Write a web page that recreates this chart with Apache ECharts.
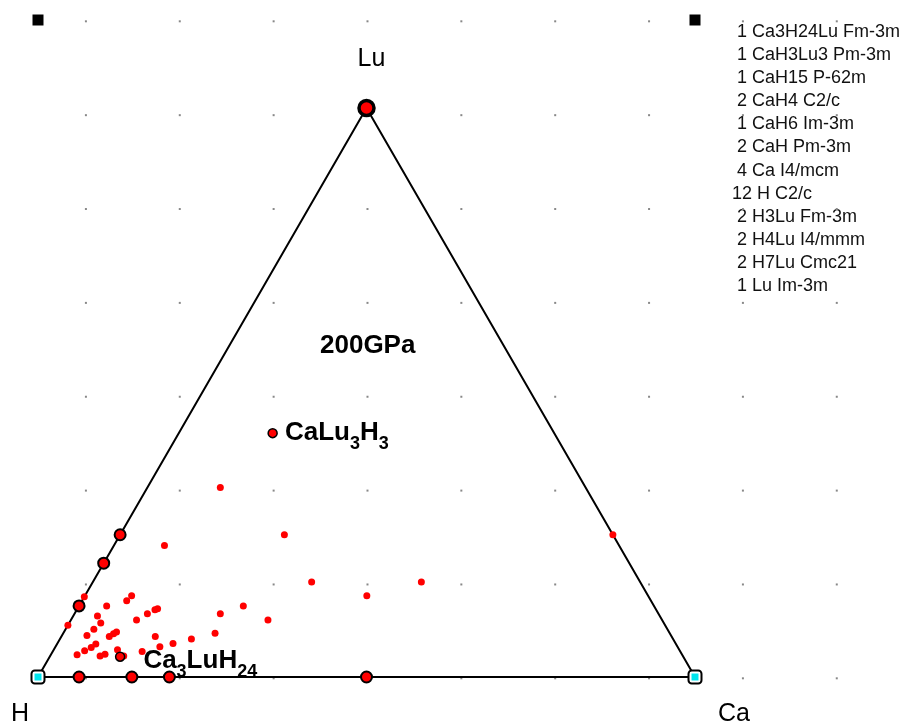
<!DOCTYPE html>
<html><head><meta charset="utf-8">
<script src="https://cdn.jsdelivr.net/npm/echarts@6/dist/echarts.min.js"></script>
<style>html,body{margin:0;padding:0;background:#fff}#c{width:916px;height:728px}</style>
</head><body><div id="c"></div>
<script>
// Compositions are [Ca fraction, Lu fraction]; H is the remainder.
const vertexLabels = ['H', 'Ca', 'Lu'];
const vertexComps = [[0, 0], [1, 0], [0, 1]];
const endMemberComps = [[0, 0], [1, 0]];            // pure H, pure Ca (cyan squares)
const luComp = [[0, 1]];                             // pure Lu
const edgeStableComps = [[0, 0.25], [0, 0.2], [0, 0.125], [0.0625, 0], [1 / 7, 0], [0.2, 0], [0.5, 0]];
const interiorStableNames = ['CaLu3H3', 'Ca3LuH24'];
const interiorStableComps = [[1 / 7, 3 / 7], [3 / 28, 1 / 28]];
const unstableComps = [
  [0.077, 0.231], [0.25, 0.25], [0.111, 0.333], [0.333, 0.167], [0.5, 0.167], [0.429, 0.143],
  [0.25, 0.125], [0.222, 0.111], [0.3, 0.1], [0.231, 0.077], [0.2, 0.067], [0.176, 0.059],
  [0.159, 0.053], [0.143, 0.071], [0.136, 0.045], [0.1, 0.1], [0.111, 0.111], [0.119, 0.118],
  [0.122, 0.12], [0.071, 0.143], [0.068, 0.134], [0.042, 0.125], [0.037, 0.107], [0.048, 0.095],
  [0.043, 0.084], [0.038, 0.073], [0.073, 0.071], [0.077, 0.076], [0.08, 0.079], [0.059, 0.058],
  [0.055, 0.052], [0.048, 0.046], [0.04, 0.039], [0.076, 0.037], [0.082, 0.04], [0.097, 0.048],
  [0.112, 0.037], [0, 0.141], [0, 0.091], [0.75, 0.25]
];
const cornerMarks = [[0, 1], [1, 1]];               // plain x,y positions of the black squares
const gridX = [1, 3, 5, 7, 9, 11, 13, 15, 17].map(v => v / 14);
const gridY = [0, 1, 2, 3, 4, 5, 6, 7].map(v => v / 7);
const legendCounts = [1, 1, 1, 2, 1, 2, 4, 12, 2, 2, 2, 1];
const legendNames = ['Ca3H24Lu Fm-3m', 'CaH3Lu3 Pm-3m', 'CaH15 P-62m', 'CaH4 C2/c', 'CaH6 Im-3m',
  'CaH Pm-3m', 'Ca I4/mcm', 'H C2/c', 'H3Lu Fm-3m', 'H4Lu I4/mmm', 'H7Lu Cmc21', 'Lu Im-3m'];
const pressureLabel = '200GPa';

const S3 = Math.sqrt(3) / 2;
const toXY = c => [c[0] + c[1] / 2, c[1] * S3];

const gridDots = [];
gridX.forEach(x => gridY.forEach(y => gridDots.push([x + 0.0015, y - 0.002])));

const rich = {
  m: { fontFamily: 'Liberation Sans', fontWeight: 'bold', fontSize: 26, color: '#000', lineHeight: 26 },
  s: { fontFamily: 'Liberation Sans', fontWeight: 'bold', fontSize: 18, color: '#000', lineHeight: 40, verticalAlign: 'bottom' }
};
const subFmt = name => name.replace(/([A-Za-z]+)(\d*)/g, (a, el, n) => '{m|' + el + '}' + (n ? '{s|' + n + '}' : ''));

const labelOffsets = [[-18, 37], [39, 37], [5, -49]];
const interiorLabelCfg = [{ distance: 7, offset: [0, 0] }, { distance: 18, offset: [0, 4] }];

const chart = echarts.init(document.getElementById('c'), null, { renderer: 'canvas' });
const legendGraphics = legendNames.map((n, i) => ({
  type: 'text', left: 732, top: 34 + 23.1 * i - 11,
  style: { text: String(legendCounts[i]).padStart(2, ' ') + ' ' + n, font: '18px "Liberation Sans"', fill: '#111' }
}));

const solid = extra => Object.assign({ opacity: 1 }, extra);

chart.setOption({
  animation: false,
  backgroundColor: '#fff',
  grid: { left: 0, right: 0, top: 0, bottom: 0 },
  xAxis: { type: 'value', min: -38 / 657, max: 878 / 657, show: false },
  yAxis: { type: 'value', min: -51 / 657, max: 677 / 657, show: false },
  graphic: [
    { type: 'text', left: 320, top: 333, style: { text: pressureLabel, font: 'bold 26px "Liberation Sans"', fill: '#000' } }
  ].concat(legendGraphics),
  series: [
    { type: 'scatter', z: 1, symbol: 'rect', symbolSize: 2, itemStyle: solid({ color: '#888' }), data: gridDots, silent: true },
    { type: 'scatter', z: 1, symbol: 'rect', symbolSize: 11, itemStyle: solid({ color: '#000' }), data: cornerMarks },
    { type: 'line', z: 2, symbol: 'none', lineStyle: { color: '#000', width: 2 },
      data: [vertexComps[0], vertexComps[1], vertexComps[2], vertexComps[0]].map(toXY) },
    { type: 'scatter', z: 3, symbol: 'circle', symbolSize: 7, itemStyle: solid({ color: '#ff0000' }), data: unstableComps.map(toXY) },
    { type: 'scatter', z: 4, symbol: 'circle', symbolSize: 11, itemStyle: solid({ color: '#ff0000', borderColor: '#000', borderWidth: 2 }),
      data: edgeStableComps.map(toXY) },
    { type: 'scatter', z: 4, symbol: 'circle', symbolSize: 15, itemStyle: solid({ color: '#ff0000', borderColor: '#000', borderWidth: 3.5 }),
      data: luComp.map(toXY) },
    { type: 'scatter', z: 4, symbol: 'circle', symbolSize: 9, itemStyle: solid({ color: '#ff0000', borderColor: '#000', borderWidth: 1.5 }),
      data: interiorStableComps.map((c, i) => ({
        value: toXY(c),
        label: { show: true, position: 'right', distance: interiorLabelCfg[i].distance, offset: interiorLabelCfg[i].offset,
          formatter: subFmt(interiorStableNames[i]), rich: rich }
      })) },
    { type: 'scatter', z: 5, symbol: 'roundRect', symbolSize: 13, itemStyle: solid({ color: '#fff', borderColor: '#000', borderWidth: 2 }),
      data: endMemberComps.map(toXY) },
    { type: 'scatter', z: 6, symbol: 'rect', symbolSize: 7, itemStyle: solid({ color: '#00e5ee' }), data: endMemberComps.map(toXY) },
    { type: 'scatter', z: 6, symbol: 'circle', symbolSize: 1, itemStyle: { color: 'rgba(0,0,0,0)', opacity: 1 },
      data: vertexComps.map((c, i) => ({
        value: toXY(c),
        label: { show: true, position: 'inside', offset: labelOffsets[i], formatter: vertexLabels[i],
          fontFamily: 'Liberation Sans', fontSize: 25, color: '#000' }
      })) }
  ]
});
</script></body></html>
